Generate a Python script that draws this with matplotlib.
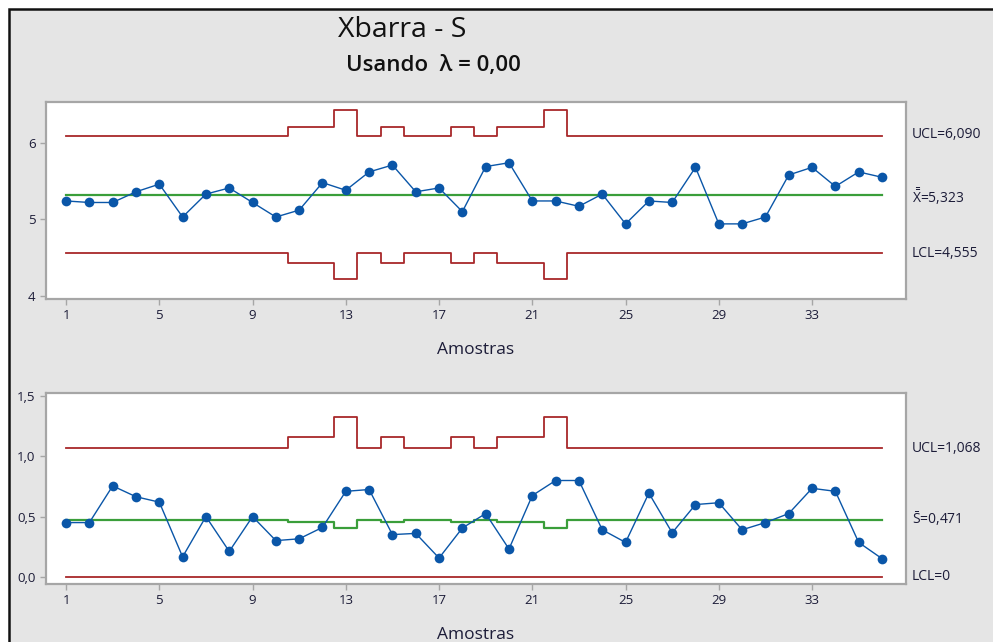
# Carta Xbarra - S (Minitab), tamanhos de amostra desiguais
import numpy as np
import matplotlib.pyplot as plt
from matplotlib.patches import Rectangle

plt.rcParams['font.family'] = ['Open Sans', 'DejaVu Sans']
plt.rcParams['mathtext.fontset'] = 'custom'
plt.rcParams['mathtext.rm'] = 'Open Sans'
plt.rcParams['mathtext.it'] = 'Open Sans'

# Dados
amostras = np.arange(1, 37)
n_amostra = [4, 4, 4, 4, 4, 4, 4, 4, 4, 4, 3, 3, 2, 4, 3, 4, 4, 3,
             4, 3, 3, 2, 4, 4, 4, 4, 4, 4, 4, 4, 4, 4, 4, 4, 4, 4]
medias = [5.24, 5.22, 5.22, 5.36, 5.46, 5.03, 5.33, 5.41, 5.22, 5.03,
          5.12, 5.48, 5.38, 5.62, 5.71, 5.36, 5.41, 5.10, 5.69, 5.74,
          5.24, 5.24, 5.17, 5.33, 4.94, 5.24, 5.22, 5.68, 4.94, 4.94,
          5.03, 5.58, 5.68, 5.43, 5.62, 5.55]
desvios = [0.45, 0.45, 0.755, 0.665, 0.62, 0.165, 0.50, 0.21, 0.50, 0.30,
           0.315, 0.41, 0.71, 0.725, 0.35, 0.36, 0.155, 0.405, 0.525, 0.23,
           0.675, 0.80, 0.80, 0.39, 0.285, 0.695, 0.365, 0.60, 0.615, 0.39,
           0.45, 0.525, 0.735, 0.71, 0.285, 0.15]

# limites por tamanho de amostra
xbar_lc = 5.323
xbar_lsc = {4: 6.090, 3: 6.212, 2: 6.426}
xbar_lic = {4: 4.555, 3: 4.434, 2: 4.220}
s_lsc = {4: 1.068, 3: 1.163, 2: 1.332}
s_lc = {4: 0.471, 3: 0.453, 2: 0.408}

azul = '#0a56a8'
verde = '#3a9e3a'
vermelho = '#a8282a'
texto = '#1c1c38'
moldura = '#a6a6a6'

fig = plt.figure(figsize=(9.93, 6.42), dpi=100, facecolor='white')
fig.patches.append(Rectangle((9 / 993, -0.05), 1.1, 1 - 9 / 642 + 0.05,
                             transform=fig.transFigure, facecolor='#e5e5e5',
                             edgecolor='#111111', linewidth=1.8, zorder=-10))

ax1 = fig.add_axes([46 / 993, 1 - 299 / 642, 860 / 993, 197 / 642])
ax2 = fig.add_axes([46 / 993, 1 - 584 / 642, 860 / 993, 191 / 642])

for ax in (ax1, ax2):
    ax.set_facecolor('white')
    for sp in ax.spines.values():
        sp.set_color(moldura)
        sp.set_linewidth(1.6)
    ax.tick_params(colors=moldura, labelcolor=texto, labelsize=9.5,
                   length=4, width=1, direction='out')
    ax.set_xticks([1, 5, 9, 13, 17, 21, 25, 29, 33])
    ax.set_xlim(0.14, 37.03)
    ax.set_xlabel('Amostras', fontsize=12.5, color=texto, labelpad=14)

# Xbarra
ucl1 = [xbar_lsc[k] for k in n_amostra]
lcl1 = [xbar_lic[k] for k in n_amostra]
ax1.plot(amostras, ucl1, drawstyle='steps-mid', color=vermelho, lw=1.3)
ax1.plot(amostras, lcl1, drawstyle='steps-mid', color=vermelho, lw=1.3)
ax1.plot([1, 36], [xbar_lc, xbar_lc], color=verde, lw=1.6)
ax1.plot(amostras, medias, color=azul, lw=1.0, marker='o', ms=7,
         markeredgewidth=0)
ax1.set_ylim(3.957, 6.535)
ax1.set_yticks([4, 5, 6])

# S
ucl2 = [s_lsc[k] for k in n_amostra]
cl2 = [s_lc[k] for k in n_amostra]
ax2.plot(amostras, ucl2, drawstyle='steps-mid', color=vermelho, lw=1.3)
ax2.plot([1, 36], [0, 0], color=vermelho, lw=1.3)
ax2.plot(amostras, cl2, drawstyle='steps-mid', color=verde, lw=1.6)
ax2.plot(amostras, desvios, color=azul, lw=1.0, marker='o', ms=7,
         markeredgewidth=0)
ax2.set_ylim(-0.061, 1.528)
ax2.set_yticks([0, 0.5, 1.0, 1.5])
ax2.set_yticklabels(['0,0', '0,5', '1,0', '1,5'])

# rótulos à direita
xr = 1.007
kw = dict(fontsize=10, color=texto, va='center', ha='left')
ax1.text(xr, 6.115, 'UCL=6,090', transform=ax1.get_yaxis_transform(), **kw)
ax1.text(xr, 5.30, r'$\bar{\bar{\mathrm{X}}}$=5,323',
         transform=ax1.get_yaxis_transform(), **kw)
ax1.text(xr, 4.555, 'LCL=4,555', transform=ax1.get_yaxis_transform(), **kw)
ax2.text(xr, 1.068, 'UCL=1,068', transform=ax2.get_yaxis_transform(), **kw)
ax2.text(xr, 0.48, r'$\bar{\mathrm{S}}$=0,471',
         transform=ax2.get_yaxis_transform(), **kw)
ax2.text(xr, 0.005, 'LCL=0', transform=ax2.get_yaxis_transform(), **kw)

# títulos
fig.text(402 / 993, 1 - 30 / 642, 'Xbarra - S', fontsize=20.5, color='#111111',
         ha='center', va='center')
fig.text(433 / 993, 1 - 66 / 642, 'Usando  λ = 0,00', fontsize=16,
         color='#111111', ha='center', va='center', fontweight='semibold')

fig.savefig('out.png', dpi=100, facecolor=fig.get_facecolor())
